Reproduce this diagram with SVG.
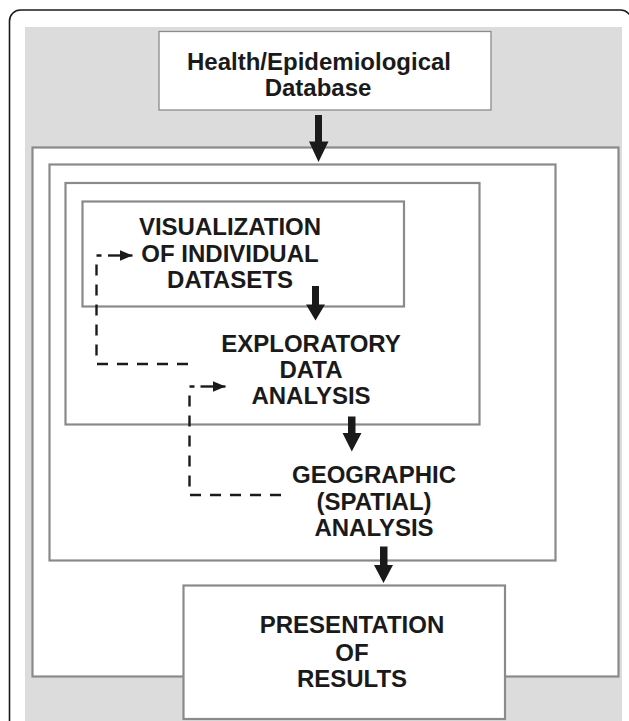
<svg xmlns="http://www.w3.org/2000/svg" width="629" height="721" viewBox="0 0 629 721">
<style>
.lvl{fill:#ffffff;stroke:#8a8a8a;stroke-width:2.2}
.top{fill:#ffffff;stroke:#8a8a8a;stroke-width:1.3}
.t{font-family:"Liberation Sans",Arial,sans-serif;font-weight:bold;font-size:24px;fill:#1a1a1a;text-anchor:middle}
.arr{fill:#1a1a1a}
.dash{fill:none;stroke:#1a1a1a;stroke-width:2.4;stroke-dasharray:11,9}
.sol{fill:none;stroke:#1a1a1a;stroke-width:2.4}
</style>
<defs>
<marker id="ah" markerWidth="13" markerHeight="11" refX="13" refY="5.5" orient="auto" markerUnits="userSpaceOnUse">
<path d="M0,0 L13,5.5 L0,11 Z" fill="#1a1a1a"/>
</marker>
</defs>
<rect x="9.5" y="10" width="622" height="740" rx="11" fill="#ffffff" stroke="#1a1a1a" stroke-width="1.6"/>
<rect x="25" y="27" width="597" height="700" fill="#dcdcdc"/>
<g id="level1">
<rect class="lvl" x="32.5" y="147.5" width="586" height="529"/>
</g>
<g id="geographic">
<rect class="lvl" x="49.5" y="164.5" width="506" height="396"/>
<text class="t" x="374" y="482.5">GEOGRAPHIC</text>
<text class="t" x="374" y="509.5">(SPATIAL)</text>
<text class="t" x="374" y="535.5">ANALYSIS</text>
</g>
<g id="exploratory">
<rect class="lvl" x="65.5" y="183" width="414" height="241.5"/>
<text class="t" x="311" y="351.5">EXPLORATORY</text>
<text class="t" x="311" y="378">DATA</text>
<text class="t" x="311" y="404">ANALYSIS</text>
</g>
<g id="visualization">
<rect class="lvl" x="82.5" y="201.5" width="321.5" height="105"/>
<text class="t" x="230" y="235">VISUALIZATION</text>
<text class="t" x="230" y="261.5">OF INDIVIDUAL</text>
<text class="t" x="230" y="288">DATASETS</text>
</g>
<g id="database">
<rect class="top" x="159" y="31.5" width="332" height="78.5"/>
<text class="t" x="319" y="69.5">Health/Epidemiological</text>
<text class="t" x="318" y="95.5">Database</text>
</g>
<g id="presentation">
<rect class="lvl" x="183.5" y="585.5" width="321.5" height="133.5"/>
<text class="t" x="352" y="633">PRESENTATION</text>
<text class="t" x="352" y="660.5">OF</text>
<text class="t" x="352" y="687">RESULTS</text>
</g>
<g id="connectors">
<path class="arr" d="M315,115 H322 V141.5 H328.5 L318.5,162 L309,141.5 H315 Z"/>
<path class="arr" d="M312,286 H319 V304.5 H325 L315.5,320.5 L306,304.5 H312 Z"/>
<path class="arr" d="M348,416.5 H355.5 V433 H361.5 L351.8,451.5 L342.5,433 H348 Z"/>
<path class="arr" d="M380,546.5 H387.5 V565 H393 L383.5,583 L374,565 H380 Z"/>
<path class="dash" d="M188,364 H96.5 V255.5 H101.5"/>
<path class="sol" d="M108,255.5 H132.5" marker-end="url(#ah)"/>
<path class="dash" d="M281,495 H189.5 V386.5 H194.5"/>
<path class="sol" d="M200.5,386.5 H225.5" marker-end="url(#ah)"/>
</g>
</svg>
